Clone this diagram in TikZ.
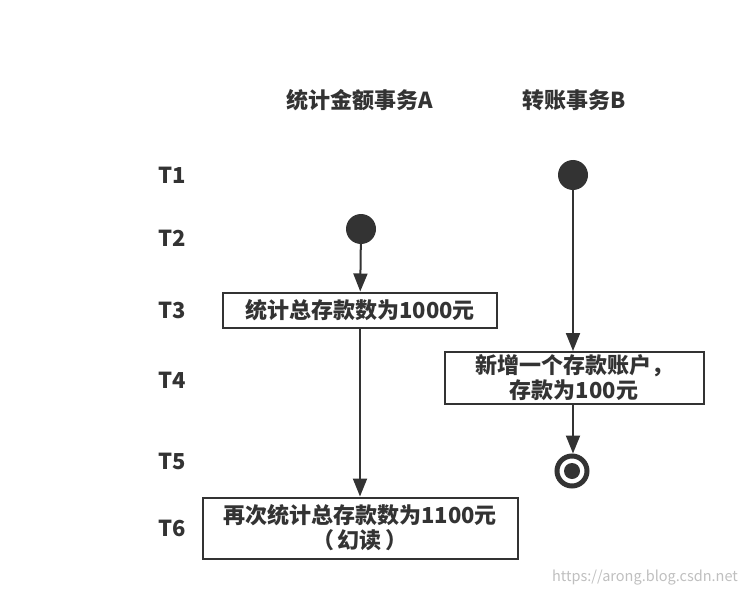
\documentclass[tikz,border=0pt]{standalone}
\usepackage{fontspec}
\setmainfont{Noto Sans CJK SC}
\usepackage{tikz}
\usetikzlibrary{arrows.meta}

\begin{document}
\begin{tikzpicture}[x=1pt,y=-1pt,
  ink/.style={draw=black!80,line width=2pt},
  lbl/.style={font=\fontsize{22}{25}\selectfont\bfseries,text=black!80},
  act/.style={ink,lbl,fill=white,align=center,inner sep=0pt},
  flow/.style={ink,-{Triangle[length=18pt,width=14pt]}},
  start/.style={circle,fill=black!80,minimum size=30pt,inner sep=0pt},
  stop/.style={circle,draw=black!80,line width=5pt,fill=white,minimum size=30pt,inner sep=0pt,
    path picture={\fill[black!80] (path picture bounding box.center) circle[radius=8pt];}}]

\useasboundingbox (0,0) rectangle (746,596);

% lanes
\node[lbl] (tA) at (360,100) {统计金额事务A};
\node[lbl] (tB) at (574,100) {转账事务B};

% time steps
\node[lbl] (t1) at (172,175) {T1};
\node[lbl] (t2) at (172,238) {T2};
\node[lbl] (t3) at (172,310) {T3};
\node[lbl] (t4) at (172,380) {T4};
\node[lbl] (t5) at (172,461) {T5};
\node[lbl] (t6) at (172,528) {T6};

% transaction A
\node[start] (a0) at (361,229) {};
\node[act,minimum width=274pt,minimum height=35pt] (a1) at (360,310) {统计总存款数为1000元};
\node[act,minimum width=315pt,minimum height=61pt] (a2) at (360,528) {再次统计总存款数为1100元\\（\hspace{4pt}幻读\hspace{4pt}）};

% transaction B
\node[start] (b0) at (573,175) {};
\node[act,minimum width=259pt,minimum height=52pt] (b1) at (574,378) {新增一个存款账户，\\存款为100元};
\node[stop] (b2) at (572,471) {};

\draw[flow] (a0) -- (a1);
\draw[flow] (a1) -- (a2);
\draw[flow] (b0) -- (b1.north -| b0);
\draw[flow] (b1.south -| b0) -- (b2.north -| b0);

\node[text=black!25,font=\fontsize{14.5}{17}\selectfont] (wm) at (645,578) {https://arong.blog.csdn.net};

\end{tikzpicture}
\end{document}
